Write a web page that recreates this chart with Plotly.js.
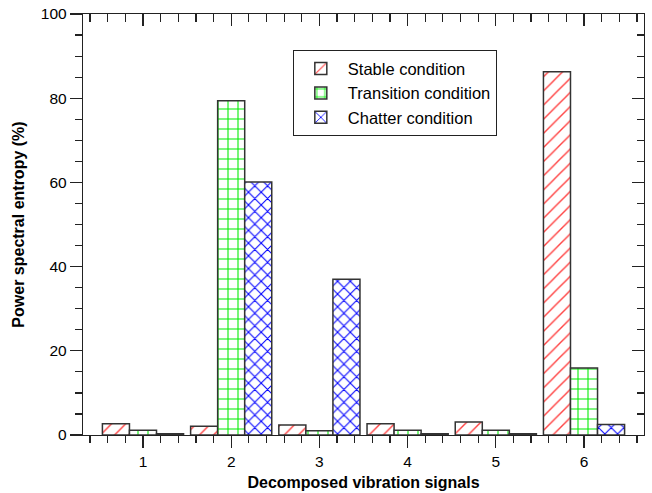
<!DOCTYPE html>
<html>
<head>
<meta charset="utf-8">
<script src="https://cdn.plot.ly/plotly-3.0.1.min.js"></script>
<style>html,body{margin:0;padding:0;background:#fff;}#chart{width:652px;height:493px;}</style>
</head>
<body>
<div id="chart"></div>
<script>
const categories = [1, 2, 3, 4, 5, 6];
const seriesNames = ['Stable condition', 'Transition condition', 'Chatter condition'];
const stable = [2.7, 2.1, 2.4, 2.7, 3.1, 86.3];
const transition = [1.1, 79.4, 1.0, 1.1, 1.1, 15.9];
const chatter = [0.3, 60.1, 37.0, 0.3, 0.3, 2.5];

const FONT = 'Liberation Sans, Arial, Helvetica, sans-serif';
const lineStyle = {color: '#333333', width: 1.5};

function barTrace(name, values, shape, fg, solidity, size) {
  return {
    type: 'bar', name: name, x: categories, y: values,
    marker: {
      color: 'white',
      line: lineStyle,
      pattern: {shape: shape, fgcolor: fg, bgcolor: 'white', size: size, solidity: solidity, fillmode: 'replace'}
    },
    hoverinfo: 'x+y'
  };
}

const data = [
  barTrace(seriesNames[0], stable, '/', '#ff4040', 0.14, 10),
  barTrace(seriesNames[1], transition, '+', '#00ee00', 0.2, 10),
  barTrace(seriesNames[2], chatter, 'x', '#0000ff', 0.22, 9),
  {type: 'scatter', x: [null], y: [null], xaxis: 'x2', yaxis: 'y2', showlegend: false, hoverinfo: 'skip'}
];

const xr = [0.32, 6.68];
const yr = [0, 100];

const layout = {
  width: 652, height: 493,
  margin: {l: 83, r: 8, t: 14, b: 58},
  paper_bgcolor: 'white', plot_bgcolor: 'white',
  font: {family: FONT, size: 15, color: '#000'},
  barmode: 'group', bargap: 0.08, bargroupgap: 0,
  showlegend: true,
  legend: {
    x: 0.374, y: 0.914, xanchor: 'left', yanchor: 'top',
    bgcolor: 'white', bordercolor: '#222', borderwidth: 1,
    font: {family: FONT, size: 16.5, color: '#000'},
    tracegroupgap: 0, itemwidth: 44
  },
  xaxis: {
    range: xr, tickmode: 'linear', tick0: 1, dtick: 1,
    ticks: 'outside', ticklen: 12, tickwidth: 1.2, tickcolor: '#222',
    minor: {tick0: 0, dtick: 0.2, ticks: 'outside', ticklen: 7, tickwidth: 1.2, tickcolor: '#222'},
    showline: true, linecolor: '#222', linewidth: 1.2,
    showgrid: false, zeroline: false,
    tickfont: {family: FONT, size: 15.5, color: '#000'},
    title: {text: '<b>Decomposed vibration signals</b>', font: {family: FONT, size: 16, color: '#000'}, standoff: 8}
  },
  yaxis: {
    range: yr, tickmode: 'linear', tick0: 0, dtick: 20,
    ticks: 'outside', ticklen: 12, tickwidth: 1.2, tickcolor: '#222',
    minor: {dtick: 5, ticks: 'outside', ticklen: 7, tickwidth: 1.2, tickcolor: '#222'},
    showline: true, linecolor: '#222', linewidth: 1.2,
    showgrid: false, zeroline: false,
    tickfont: {family: FONT, size: 15.5, color: '#000'},
    title: {text: '<b>Power spectral entropy (%)</b>', font: {family: FONT, size: 16, color: '#000'}, standoff: 12}
  },
  xaxis2: {
    overlaying: 'x', side: 'top', anchor: 'y2', range: xr,
    tickmode: 'linear', tick0: 1, dtick: 1,
    ticks: 'inside', ticklen: 12, tickwidth: 1.2, tickcolor: '#222',
    minor: {tick0: 0, dtick: 0.2, ticks: 'inside', ticklen: 8, tickwidth: 1.2, tickcolor: '#222'},
    showline: true, linecolor: '#222', linewidth: 1.2,
    showticklabels: false, showgrid: false, zeroline: false
  },
  yaxis2: {
    overlaying: 'y', side: 'right', anchor: 'x2', range: yr,
    tickmode: 'linear', tick0: 0, dtick: 20,
    ticks: 'inside', ticklen: 12, tickwidth: 1.2, tickcolor: '#222',
    minor: {dtick: 5, ticks: 'inside', ticklen: 7, tickwidth: 1.2, tickcolor: '#222'},
    showline: true, linecolor: '#222', linewidth: 1.2,
    showticklabels: false, showgrid: false, zeroline: false
  }
};

Plotly.newPlot('chart', data, layout, {displayModeBar: false, staticPlot: true});
</script>
</body>
</html>
